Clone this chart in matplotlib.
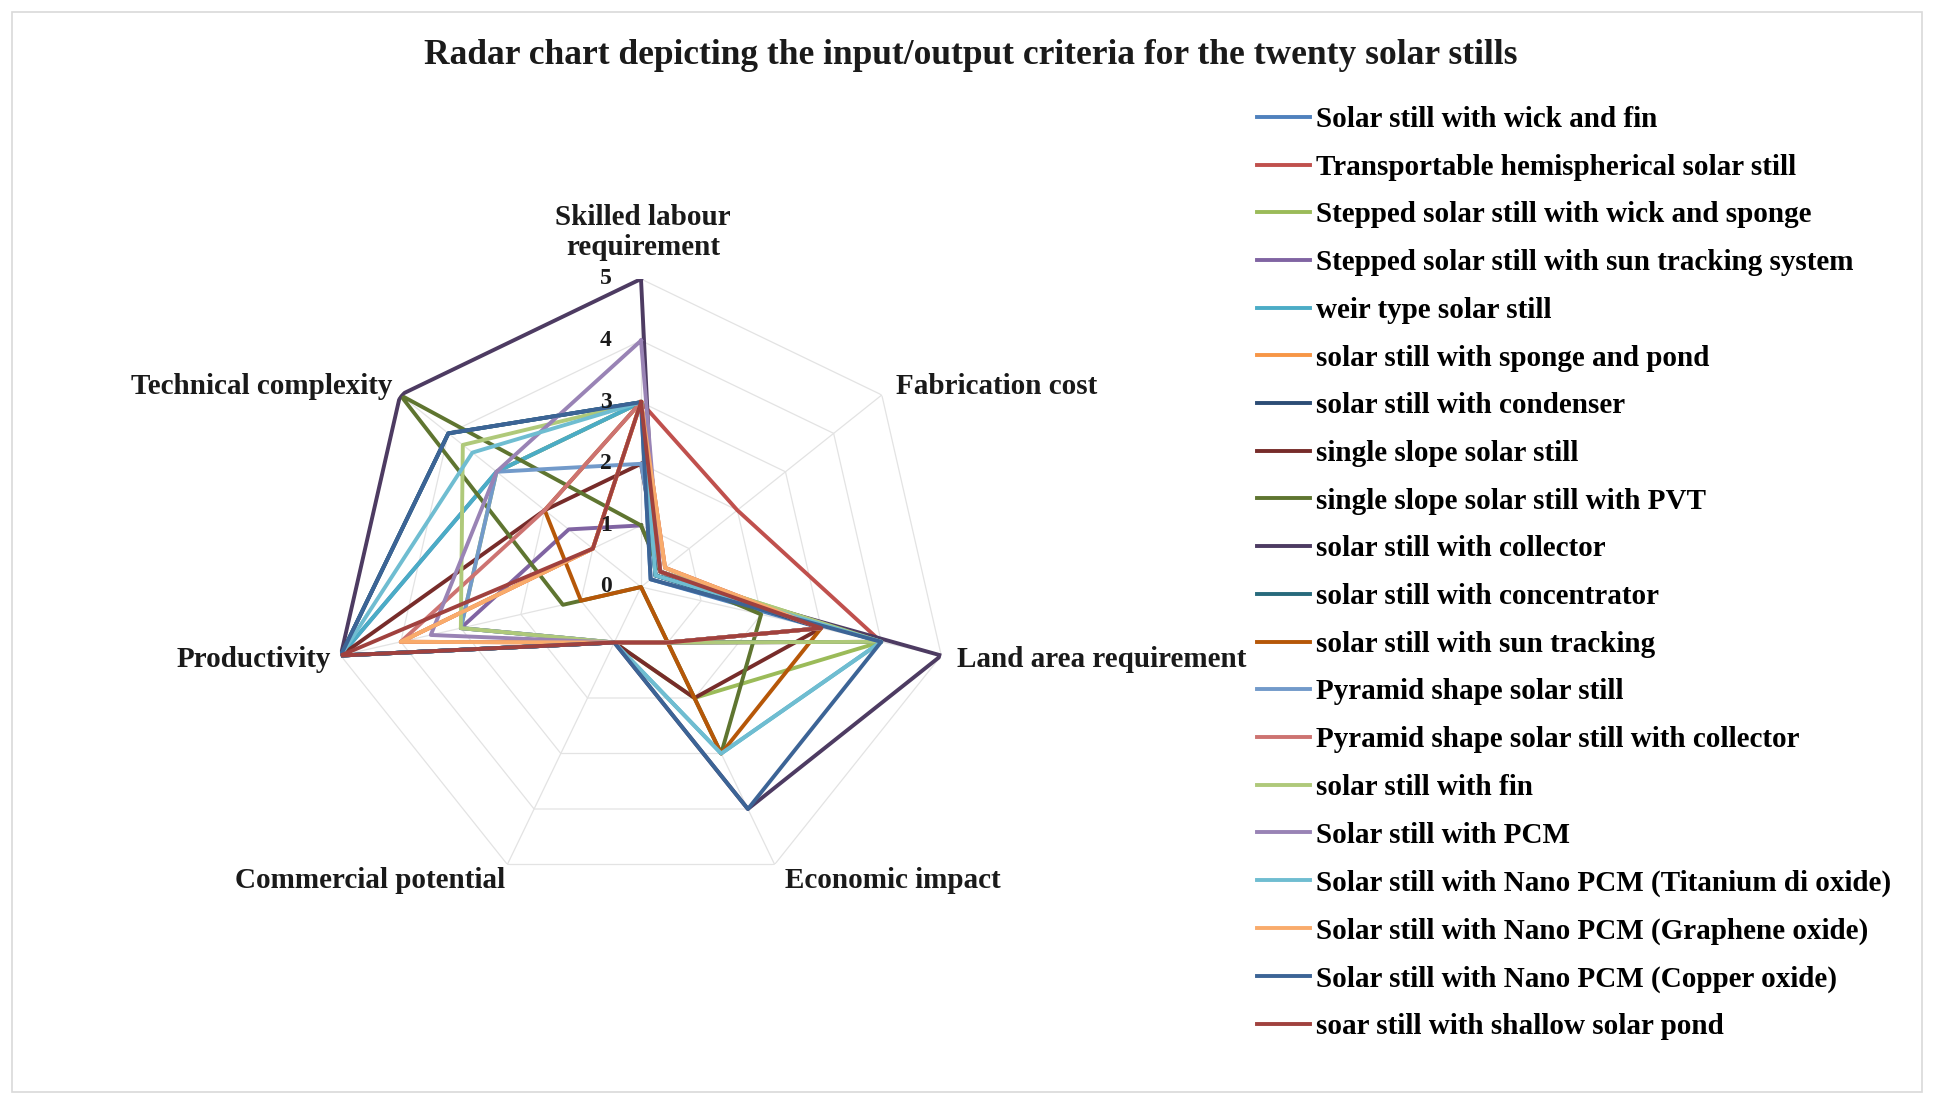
import numpy as np
import matplotlib.pyplot as plt
from matplotlib.patches import Rectangle

plt.rcParams['font.family'] = ['Liberation Serif', 'DejaVu Serif']
plt.rcParams['font.weight'] = 'bold'

# criteria, clockwise from the top
criteria = ["Skilled labour\nrequirement", "Fabrication cost", "Land area requirement",
            "Economic impact", "Commercial potential", "Productivity", "Technical complexity"]

stills = [
    "Solar still with wick and fin",
    "Transportable hemispherical solar still",
    "Stepped solar still with wick and sponge",
    "Stepped solar still with sun tracking system",
    "weir type solar still",
    "solar still with sponge and pond",
    "solar still with condenser",
    "single slope solar still",
    "single slope solar still with PVT",
    "solar still with collector",
    "solar still with concentrator",
    "solar still with sun tracking",
    "Pyramid shape solar still",
    "Pyramid shape solar still with collector",
    "solar still with fin",
    "Solar still with PCM",
    "Solar still with Nano PCM (Titanium di oxide)",
    "Solar still with Nano PCM (Graphene oxide)",
    "Solar still with Nano PCM (Copper oxide)",
    "soar still with shallow solar pond",
]

# scores of each still (same order as stills) on each criterion
skilled_labour = [3, 3, 3, 1, 3, 3, 3, 2, 1, 5, 3, 3, 2, 3, 3, 4, 3, 3, 3, 3]
fabrication_cost = [0.2, 2, 0.4, 0.4, 0.3, 0.5, 0.3, 0.4, 0.4, 0.3, 0.3, 0.4, 0.4, 0.5, 0.4, 0.4, 0.3, 0.5, 0.2, 0.4]
land_area = [3, 4, 4, 3, 4, 3, 3, 3, 2, 5, 4, 3, 3, 3, 4, 3, 4, 3, 4, 3]
economic_impact = [1, 1, 2, 1, 3, 1, 1, 2, 3, 4, 1, 3, 1, 1, 1, 1, 3, 1, 4, 1]
commercial_potential = [1, 1, 1, 1, 1, 1, 1, 1, 0, 1, 1, 0, 1, 1, 1, 1, 1, 1, 1, 1]
productivity = [5, 4, 3, 3, 5, 4, 5, 5, 1.3, 5, 5, 1, 3, 4, 3, 3.5, 5, 4, 5, 5]
technical_complexity = [3, 1, 3, 1.5, 3, 1, 4, 2, 5, 5, 4, 2, 3, 2, 3.7, 3, 3.5, 1, 4, 1]

colors = ["#4F81BD", "#C0504D", "#9BBB59", "#8064A2", "#4BACC6", "#F79646",
          "#2C4D75", "#772C2A", "#5F7530", "#4D3B62", "#276A7C", "#B65708",
          "#729ACA", "#CD7371", "#AFC97A", "#9983B5", "#6FBDD1", "#F9AB6B",
          "#3C6496", "#A0413E"]

n = len(criteria)
theta = np.arange(n) * 2 * np.pi / n
theta_closed = np.append(theta, theta[0])

fig = plt.figure(figsize=(19.34, 10.98), dpi=100)
fig.patches.append(Rectangle((12 / 1934, 6 / 1098), 1910 / 1934, 1080 / 1098,
                             transform=fig.transFigure, fill=False,
                             edgecolor="#D9D9D9", linewidth=1.2))

ax = fig.add_axes([333 / 1934, 1 - 895 / 1098, 616 / 1934, 616 / 1098], projection="polar")
ax.set_theta_offset(np.pi / 2)
ax.set_theta_direction(-1)
ax.set_ylim(0, 5)
ax.set_xticks([])
ax.set_yticks([])
ax.grid(False)
ax.spines["polar"].set_visible(False)
ax.patch.set_alpha(0)

# polygon gridlines and spokes
for r in range(1, 6):
    ax.plot(theta_closed, [r] * (n + 1), color="#E3E3E3", lw=0.9, zorder=1)
for t in theta:
    ax.plot([t, t], [0, 5], color="#E3E3E3", lw=0.9, zorder=1)

table = np.array([skilled_labour, fabrication_cost, land_area, economic_impact,
                  commercial_potential, productivity, technical_complexity]).T
for i, name in enumerate(stills):
    vals = np.append(table[i], table[i][0])
    ax.plot(theta_closed, vals, color=colors[i], lw=2.8, label=name, zorder=2)

# radial scale labels beside the top spoke
for v in range(6):
    ax.annotate(str(v), xy=(0, v), xytext=(-35, 0), textcoords="offset pixels",
                ha="center", va="center", fontsize=17, color="#1a1a1a",
                annotation_clip=False, zorder=3)

# category labels around the outside
label_pos = [
    ((2, 18), "center", "bottom"),
    ((14, 8), "left", "center"),
    ((16, -4), "left", "center"),
    ((10, -16), "left", "center"),
    ((-2, -16), "right", "center"),
    ((-10, -4), "right", "center"),
    ((-8, 8), "right", "center"),
]
for t, lab, (off, ha, va) in zip(theta, criteria, label_pos):
    ax.annotate(lab, xy=(t, 5), xytext=off, textcoords="offset pixels",
                ha=ha, va=va, fontsize=21, color="#1a1a1a", linespacing=1.15,
                annotation_clip=False)

fig.suptitle("Radar chart depicting the input/output criteria for the twenty solar stills",
             x=0.502, y=0.949, va="center", fontsize=25.5, fontweight="bold", color="#1a1a1a")

fig.legend(loc="upper left", bbox_to_anchor=(0.6497, 1 - 106 / 1098), frameon=False,
           fontsize=21, handlelength=1.85, handletextpad=0.2, labelspacing=0.71,
           borderaxespad=0, borderpad=0)

fig.savefig("out.png", dpi=100, facecolor="white")
